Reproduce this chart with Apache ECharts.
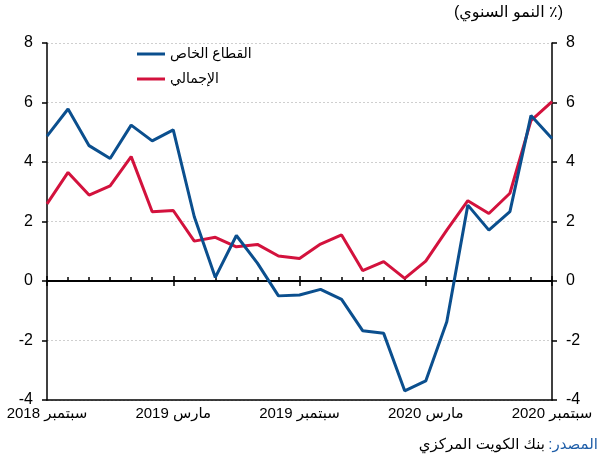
<!DOCTYPE html>
<html>
<head>
<meta charset="utf-8">
<script src="https://cdn.jsdelivr.net/npm/echarts@6/dist/echarts.min.js"></script>
<style>
  html, body { margin: 0; padding: 0; background: #fff; }
  #chart { width: 600px; height: 464px; }
</style>
</head>
<body>
<div id="chart"></div>
<script>
const categories = [
  'سبتمبر 2018', 'أكتوبر 2018', 'نوفمبر 2018', 'ديسمبر 2018',
  'يناير 2019', 'فبراير 2019', 'مارس 2019', 'أبريل 2019', 'مايو 2019',
  'يونيو 2019', 'يوليو 2019', 'أغسطس 2019', 'سبتمبر 2019', 'أكتوبر 2019',
  'نوفمبر 2019', 'ديسمبر 2019', 'يناير 2020', 'فبراير 2020', 'مارس 2020',
  'أبريل 2020', 'مايو 2020', 'يونيو 2020', 'يوليو 2020', 'أغسطس 2020',
  'سبتمبر 2020'
]
const privateSector = [
  4.87, 5.78, 4.55, 4.12, 5.24, 4.71, 5.08, 2.16, 0.12, 1.53, 0.6, -0.5,
  -0.47, -0.28, -0.62, -1.67, -1.76, -3.69, -3.36, -1.37, 2.55, 1.71, 2.33,
  5.56, 4.79
]
const total = [
  2.59, 3.65, 2.89, 3.2, 4.18, 2.33, 2.37, 1.34, 1.47, 1.15, 1.23, 0.84,
  0.76, 1.24, 1.55, 0.35, 0.65, 0.09, 0.67, 1.71, 2.7, 2.27, 2.95, 5.39, 6.03
]
const yTicks = [-4, -2, 0, 2, 4, 6, 8]

const FONT = '"Liberation Sans", Arial, "DejaVu Sans", sans-serif'
const rtl = (s) => '\u202B' + s + '\u202C'

const chart = echarts.init(document.getElementById('chart'))

// y axis shared style, left and right
const yAxisBase = {
  type: 'value',
  min: yTicks[0],
  max: yTicks[yTicks.length - 1],
  interval: 2,
  axisLine: { show: true, lineStyle: { color: '#000', width: 1.5 } },
  axisTick: { show: true, length: 5, lineStyle: { color: '#000', width: 1.5 } },
  axisLabel: { fontSize: 16, color: '#000', fontFamily: FONT, margin: 14 },
  splitLine: { show: true, lineStyle: { color: '#cfcfcf', type: [2, 2], width: 1 } },
}

// axes sitting on the zero line: monthly ticks down, half-year ticks both ways
const zeroAxis = (tick) => ({
  type: 'category',
  data: categories,
  boundaryGap: false,
  axisLine: { show: true, onZero: true, onZeroAxisIndex: 0, lineStyle: { color: '#000', width: 1.5 } },
  axisTick: Object.assign({ show: true, lineStyle: { color: '#000', width: 1.5 } }, tick),
  axisLabel: { show: false },
  splitLine: { show: false },
})

const option = {
  animation: false,
  textStyle: { fontFamily: FONT },
  grid: { left: 47, right: 48, top: 43, bottom: 64 },
  legend: {
    orient: 'vertical',
    left: 132,
    top: 42,
    itemWidth: 28,
    itemHeight: 3,
    itemGap: 11,
    icon: 'rect',
    textStyle: { fontSize: 14, color: '#000', fontFamily: FONT },
    data: ['القطاع الخاص', 'الإجمالي'],
  },
  xAxis: [
    {
      type: 'category',
      data: categories,
      boundaryGap: false,
      position: 'bottom',
      axisLine: { show: true, onZero: false, lineStyle: { color: '#000', width: 1.5 } },
      axisTick: { show: false },
      axisLabel: { interval: 5, fontSize: 15, color: '#000', fontFamily: FONT, margin: 6 },
      splitLine: { show: false },
    },
    zeroAxis({ interval: 0, length: 4 }),
    zeroAxis({ interval: 5, length: 5 }),
    zeroAxis({ interval: 5, length: 5, inside: true }),
  ],
  yAxis: [
    Object.assign({ position: 'left' }, yAxisBase),
    Object.assign({ position: 'right' }, yAxisBase, { splitLine: { show: false } }),
  ],
  series: [
    {
      name: 'القطاع الخاص',
      type: 'line',
      data: privateSector,
      symbol: 'none',
      lineStyle: { color: '#0b4f8e', width: 3 },
      itemStyle: { color: '#0b4f8e' },
      z: 3,
    },
    {
      name: 'الإجمالي',
      type: 'line',
      data: total,
      symbol: 'none',
      lineStyle: { color: '#d3123d', width: 3 },
      itemStyle: { color: '#d3123d' },
      z: 2,
    },
  ],
  graphic: [
    {
      type: 'text',
      right: 37,
      top: 5,
      style: { text: rtl('(٪ النمو السنوي)'), fontSize: 16, fill: '#000', fontFamily: FONT },
    },
    {
      type: 'text',
      right: 2,
      top: 437,
      style: {
        text: '{b|بنك الكويت المركزي} {a|' + rtl('المصدر:') + '}',
        rich: {
          a: { fontSize: 15, fill: '#1f5ea8', color: '#1f5ea8', fontFamily: FONT },
          b: { fontSize: 15, fill: '#000', color: '#000', fontFamily: FONT },
        },
      },
    },
  ],
}

chart.setOption(option)

const resize = () => chart.resize()
window.addEventListener('resize', resize)
</script>
</body>
</html>
